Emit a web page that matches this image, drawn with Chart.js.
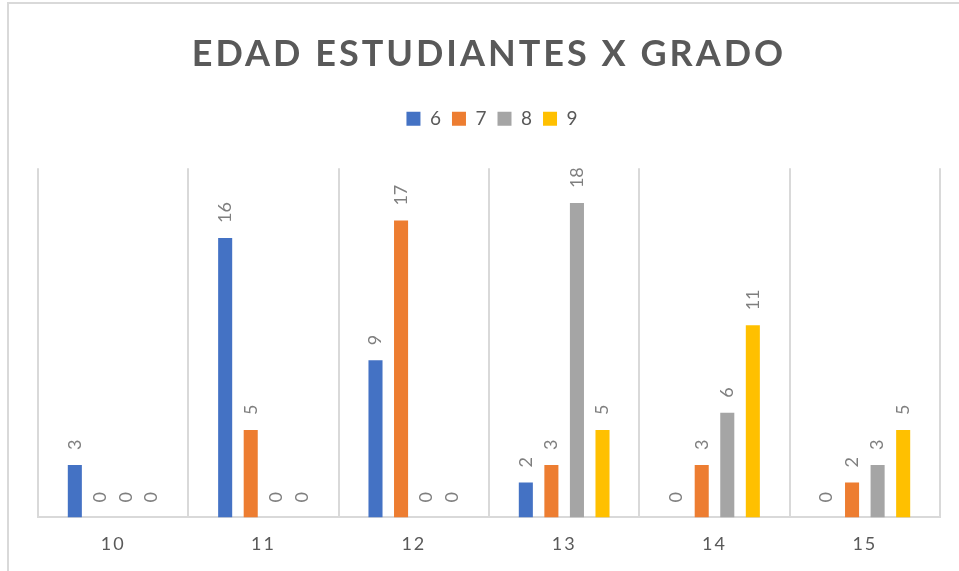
<!DOCTYPE html>
<html><head><meta charset="utf-8">
<script src="https://cdn.jsdelivr.net/npm/chart.js@4"></script>
<style>
html,body{margin:0;padding:0;background:#fff}
#wrap{position:relative;width:959px;height:571px;overflow:hidden}
#frame{position:absolute;left:7px;top:2px;right:-2px;bottom:-2px;border-left:2px solid #d9d9d9;border-top:2px solid #d9d9d9;pointer-events:none}
canvas{display:block}
</style>
</head><body>
<div id="wrap"><canvas id="c" width="959" height="571"></canvas><div id="frame"></div></div>
<script>
const categories = ['10', '11', '12', '13', '14', '15'];
const seriesNames = ['6', '7', '8', '9'];
const grade6 = [3, 16, 9, 2, 0, 0];
const grade7 = [0, 5, 17, 3, 3, 2];
const grade8 = [0, 0, 0, 18, 6, 3];
const grade9 = [0, 0, 0, 5, 11, 5];
const seriesColors = ['#4472C4', '#ED7D31', '#A5A5A5', '#FFC000'];
const titleText = 'EDAD ESTUDIANTES X GRADO';

const seriesValues = [grade6, grade7, grade8, grade9];

const spacingPlugin = {
  id: 'spacing',
  beforeInit(chart) {
    const lg = chart.legend;
    if (lg) {
      const fit = lg.fit;
      lg.fit = function () { fit.call(this); this.height += 30; };
    }
    const tb = chart.titleBlock;
    if (tb) {
      const d = tb.draw;
      tb.draw = function () {
        const c = this.ctx; c.save(); c.letterSpacing = '3px'; d.apply(this, arguments); c.restore();
      };
    }
  },
  beforeDraw(chart) { chart.ctx.letterSpacing = '2px'; },
  beforeDatasetsDraw(chart) { chart.ctx.letterSpacing = '0px'; },
  afterDraw(chart) { chart.ctx.letterSpacing = '0px'; }
};

const barLabels = {
  id: 'barLabels',
  afterDatasetsDraw(chart) {
    const ctx = chart.ctx;
    ctx.save();
    ctx.letterSpacing = '0px';
    ctx.font = '18px Lato';
    ctx.fillStyle = '#7f7f7f';
    ctx.textAlign = 'left';
    ctx.textBaseline = 'middle';
    chart.data.datasets.forEach((ds, i) => {
      const meta = chart.getDatasetMeta(i);
      meta.data.forEach((el, j) => {
        ctx.save();
        ctx.translate(el.x, el.y - 15);
        ctx.rotate(-Math.PI / 2);
        ctx.fillText(String(ds.data[j]), 0, 0);
        ctx.restore();
      });
    });
    ctx.restore();
  }
};

new Chart(document.getElementById('c'), {
  type: 'bar',
  data: {
    labels: categories,
    datasets: seriesNames.map((n, i) => ({
      label: n,
      data: seriesValues[i],
      backgroundColor: seriesColors[i],
      borderWidth: 0,
      categoryPercentage: 0.68,
      barPercentage: 0.55
    }))
  },
  options: {
    responsive: false,
    animation: false,
    layout: { padding: { left: 38, right: 19, top: 0, bottom: 0 } },
    plugins: {
      title: {
        display: true, text: titleText, color: '#595959',
        font: { family: 'Lato', size: 36, weight: 'bold' },
        padding: { top: 33, bottom: 24 }
      },
      legend: {
        position: 'top',
        labels: { boxWidth: 14, boxHeight: 14, padding: 9, color: '#595959', font: { family: 'Lato', size: 19 } }
      },
      tooltip: { enabled: false }
    },
    scales: {
      x: {
        grid: { display: true, color: '#d9d9d9', lineWidth: 2, drawTicks: false, offset: true },
        border: { display: true, color: '#d9d9d9', width: 2 },
        ticks: { color: '#595959', font: { family: 'Lato', size: 18 }, padding: 16 }
      },
      y: { display: false, min: 0, max: 20 }
    }
  },
  plugins: [spacingPlugin, barLabels]
});
</script>
</body></html>
